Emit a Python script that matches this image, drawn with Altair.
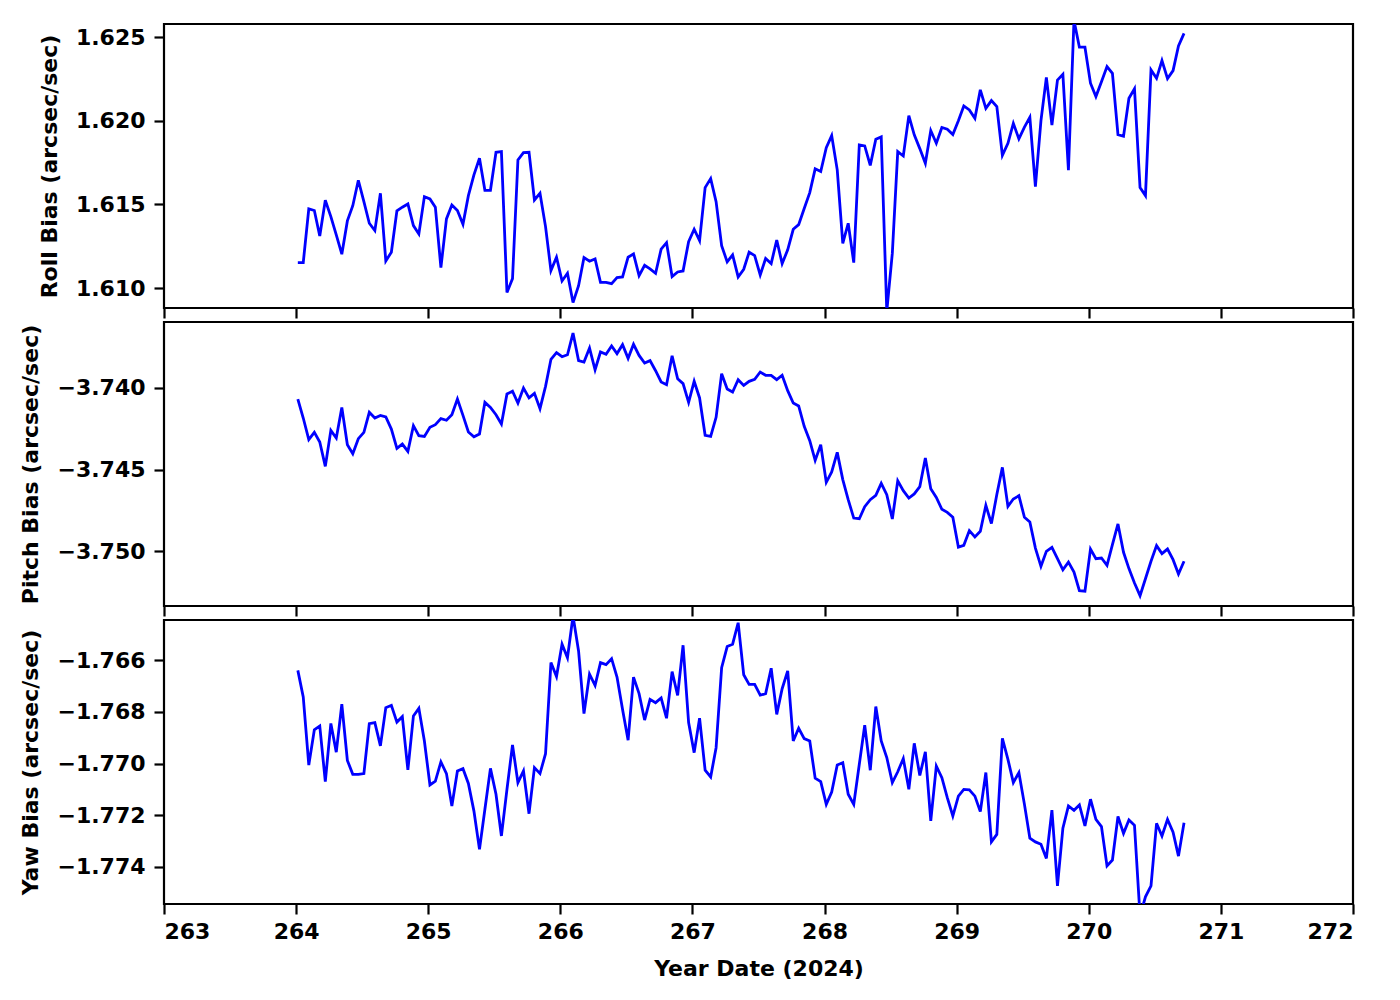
import altair as alt
import pandas as pd

# Hourly samples, day of year 2024
days = [
    264.013, 264.054, 264.096, 264.138, 264.179, 264.221, 264.263, 264.304, 264.346, 264.388, 264.429, 264.471,
    264.513, 264.554, 264.596, 264.638, 264.679, 264.721, 264.763, 264.804, 264.846, 264.888, 264.929, 264.971,
    265.013, 265.054, 265.096, 265.138, 265.179, 265.221, 265.263, 265.304, 265.346, 265.388, 265.429, 265.471,
    265.513, 265.554, 265.596, 265.638, 265.679, 265.721, 265.763, 265.804, 265.846, 265.888, 265.929, 265.971,
    266.013, 266.054, 266.096, 266.138, 266.179, 266.221, 266.263, 266.304, 266.346, 266.388, 266.429, 266.471,
    266.513, 266.554, 266.596, 266.638, 266.679, 266.721, 266.763, 266.804, 266.846, 266.888, 266.929, 266.971,
    267.013, 267.054, 267.096, 267.138, 267.179, 267.221, 267.263, 267.304, 267.346, 267.388, 267.429, 267.471,
    267.513, 267.554, 267.596, 267.638, 267.679, 267.721, 267.763, 267.804, 267.846, 267.888, 267.929, 267.971,
    268.013, 268.054, 268.096, 268.138, 268.179, 268.221, 268.263, 268.304, 268.346, 268.388, 268.429, 268.471,
    268.513, 268.554, 268.596, 268.638, 268.679, 268.721, 268.763, 268.804, 268.846, 268.888, 268.929, 268.971,
    269.013, 269.054, 269.096, 269.138, 269.179, 269.221, 269.263, 269.304, 269.346, 269.388, 269.429, 269.471,
    269.513, 269.554, 269.596, 269.638, 269.679, 269.721, 269.763, 269.804, 269.846, 269.888, 269.929, 269.971,
    270.013, 270.054, 270.096, 270.138, 270.179, 270.221, 270.263, 270.304, 270.346, 270.388, 270.429, 270.471,
    270.513, 270.554, 270.596, 270.638, 270.679, 270.721,
]

roll = [
    1.61152, 1.61152, 1.61473, 1.61463, 1.61311, 1.61524, 1.61427, 1.61317, 1.61202, 1.61401,
    1.61492, 1.61644, 1.61516, 1.61387, 1.61343, 1.61566, 1.61162, 1.61214, 1.61461, 1.61483,
    1.61502, 1.61373, 1.61323, 1.61546, 1.61532, 1.61483, 1.61122, 1.61413, 1.61496, 1.61463,
    1.61381, 1.61552, 1.61676, 1.61775, 1.61584, 1.61584, 1.61811, 1.61815, 1.60973, 1.61056,
    1.61765, 1.61809, 1.61811, 1.61526, 1.61566, 1.61367, 1.61104, 1.61184, 1.61042, 1.61088,
    1.60913, 1.61014, 1.61182, 1.61160, 1.61174, 1.61034, 1.61034, 1.61026, 1.61062, 1.61066,
    1.61184, 1.61204, 1.61074, 1.61136, 1.61114, 1.61088, 1.61232, 1.61271, 1.61068, 1.61096,
    1.61102, 1.61277, 1.61351, 1.61283, 1.61600, 1.61654, 1.61516, 1.61253, 1.61156, 1.61198,
    1.61066, 1.61112, 1.61214, 1.61194, 1.61078, 1.61176, 1.61146, 1.61287, 1.61146, 1.61228,
    1.61351, 1.61379, 1.61475, 1.61570, 1.61712, 1.61696, 1.61839, 1.61911, 1.61706, 1.61267,
    1.61387, 1.61152, 1.61855, 1.61849, 1.61733, 1.61889, 1.61903, 1.60860, 1.61208, 1.61815,
    1.61789, 1.62030, 1.61915, 1.61833, 1.61745, 1.61941, 1.61865, 1.61959, 1.61949, 1.61917,
    1.62000, 1.62088, 1.62064, 1.62014, 1.62184, 1.62074, 1.62120, 1.62084, 1.61793, 1.61865,
    1.61984, 1.61891, 1.61961, 1.62020, 1.61606, 1.62000, 1.62259, 1.61973, 1.62243, 1.62277,
    1.61704, 1.62600, 1.62439, 1.62439, 1.62224, 1.62144, 1.62233, 1.62323, 1.62283, 1.61917,
    1.61907, 1.62134, 1.62191, 1.61600, 1.61552, 1.62303, 1.62253, 1.62359, 1.62251, 1.62299,
    1.62447, 1.62522,
]

pitch = [
    -3.74068, -3.74184, -3.74317, -3.74272, -3.74331, -3.74481, -3.74260, -3.74307, -3.74119, -3.74348,
    -3.74403, -3.74311, -3.74272, -3.74149, -3.74184, -3.74168, -3.74178, -3.74252, -3.74370, -3.74344,
    -3.74389, -3.74231, -3.74292, -3.74297, -3.74241, -3.74225, -3.74188, -3.74198, -3.74164, -3.74068,
    -3.74168, -3.74270, -3.74299, -3.74282, -3.74088, -3.74119, -3.74164, -3.74221, -3.74037, -3.74020,
    -3.74092, -3.74000, -3.74061, -3.74033, -3.74127, -3.73990, -3.73824, -3.73783, -3.73808, -3.73796,
    -3.73663, -3.73832, -3.73841, -3.73755, -3.73888, -3.73779, -3.73793, -3.73742, -3.73789, -3.73734,
    -3.73818, -3.73732, -3.73800, -3.73847, -3.73832, -3.73894, -3.73963, -3.73980, -3.73802, -3.73943,
    -3.73973, -3.74088, -3.73959, -3.74061, -3.74290, -3.74297, -3.74180, -3.73912, -3.74006, -3.74025,
    -3.73949, -3.73984, -3.73959, -3.73947, -3.73902, -3.73922, -3.73922, -3.73949, -3.73922, -3.74016,
    -3.74092, -3.74110, -3.74235, -3.74323, -3.74444, -3.74348, -3.74579, -3.74515, -3.74395, -3.74562,
    -3.74685, -3.74798, -3.74802, -3.74728, -3.74685, -3.74658, -3.74585, -3.74654, -3.74804, -3.74569,
    -3.74630, -3.74675, -3.74650, -3.74605, -3.74430, -3.74618, -3.74671, -3.74744, -3.74763, -3.74793,
    -3.74976, -3.74965, -3.74875, -3.74914, -3.74879, -3.74720, -3.74832, -3.74654, -3.74487, -3.74726,
    -3.74681, -3.74661, -3.74793, -3.74822, -3.74982, -3.75094, -3.75002, -3.74978, -3.75047, -3.75115,
    -3.75068, -3.75129, -3.75243, -3.75247, -3.74988, -3.75047, -3.75043, -3.75088, -3.74961, -3.74834,
    -3.75008, -3.75108, -3.75196, -3.75274, -3.75170, -3.75063, -3.74967, -3.75016, -3.74988, -3.75053,
    -3.75141, -3.75063,
]

yaw = [
    -1.76640, -1.76743, -1.77006, -1.76870, -1.76855, -1.77070, -1.76845, -1.76956, -1.76771, -1.76988,
    -1.77042, -1.77042, -1.77039, -1.76846, -1.76842, -1.76932, -1.76784, -1.76775, -1.76840, -1.76819,
    -1.77025, -1.76816, -1.76787, -1.76913, -1.77083, -1.77068, -1.76994, -1.77039, -1.77164, -1.77029,
    -1.77020, -1.77077, -1.77184, -1.77332, -1.77177, -1.77019, -1.77119, -1.77280, -1.77100, -1.76928,
    -1.77074, -1.77029, -1.77194, -1.77016, -1.77039, -1.76962, -1.76610, -1.76664, -1.76539, -1.76591,
    -1.76430, -1.76565, -1.76807, -1.76655, -1.76698, -1.76610, -1.76618, -1.76595, -1.76666, -1.76791,
    -1.76910, -1.76666, -1.76730, -1.76832, -1.76752, -1.76765, -1.76747, -1.76825, -1.76645, -1.76737,
    -1.76543, -1.76842, -1.76958, -1.76825, -1.77026, -1.77052, -1.76939, -1.76630, -1.76548, -1.76539,
    -1.76456, -1.76657, -1.76694, -1.76694, -1.76736, -1.76730, -1.76632, -1.76810, -1.76711, -1.76642,
    -1.76913, -1.76864, -1.76904, -1.76913, -1.77057, -1.77070, -1.77158, -1.77110, -1.77006, -1.76997,
    -1.77119, -1.77158, -1.77003, -1.76852, -1.77026, -1.76780, -1.76913, -1.76977, -1.77074, -1.77032,
    -1.76981, -1.77100, -1.76922, -1.77046, -1.76955, -1.77222, -1.77010, -1.77055, -1.77132, -1.77203,
    -1.77126, -1.77100, -1.77102, -1.77126, -1.77186, -1.77035, -1.77303, -1.77274, -1.76903, -1.76984,
    -1.77074, -1.77035, -1.77158, -1.77289, -1.77303, -1.77312, -1.77367, -1.77180, -1.77473, -1.77250,
    -1.77164, -1.77181, -1.77160, -1.77241, -1.77138, -1.77216, -1.77244, -1.77396, -1.77373, -1.77205,
    -1.77270, -1.77218, -1.77239, -1.77590, -1.77515, -1.77473, -1.77231, -1.77280, -1.77216, -1.77265,
    -1.77358, -1.77229,
]

x_ticks = [263, 264, 265, 266, 267, 268, 269, 270, 271, 272]
roll_ticks = [1.610, 1.615, 1.620, 1.625]
pitch_ticks = [-3.750, -3.745, -3.740]
yaw_ticks = [-1.774, -1.772, -1.770, -1.768, -1.766]

roll_domain = [1.608805, 1.625777]
pitch_domain = [-3.753374, -3.735951]
yaw_domain = [-1.775430, -1.764454]

df = pd.DataFrame({"day": days, "roll": roll, "pitch": pitch, "yaw": yaw})

FONT = "DejaVu Sans"
FS = 22
W, H = 1189, 284


def panel(field, title, domain, ticks, bottom):
    xaxis = alt.Axis(
        values=x_ticks,
        labels=bottom,
        title="Year Date (2024)" if bottom else "",
        format="d",
        grid=False,
        domain=False,
        tickSize=10,
        tickWidth=2.2,
        tickColor="black",
        labelPadding=7,
        titlePadding=16,
    )
    yaxis = alt.Axis(
        values=ticks,
        format=".3f",
        title=title,
        grid=False,
        domain=False,
        tickSize=10,
        tickWidth=2.2,
        tickColor="black",
        labelPadding=9,
        titlePadding=14,
    )
    return (
        alt.Chart(df)
        .mark_line(color="#0000ff", strokeWidth=2.8, clip=True)
        .encode(
            x=alt.X("day:Q", scale=alt.Scale(domain=[263, 272], nice=False, zero=False), axis=xaxis),
            y=alt.Y(f"{field}:Q", scale=alt.Scale(domain=domain, nice=False, zero=False), axis=yaxis),
        )
        .properties(width=W, height=H)
    )


chart = (
    alt.vconcat(
        panel("roll", "Roll Bias (arcsec/sec)", roll_domain, roll_ticks, False),
        panel("pitch", "Pitch Bias (arcsec/sec)", pitch_domain, pitch_ticks, False),
        panel("yaw", "Yaw Bias (arcsec/sec)", yaw_domain, yaw_ticks, True),
        spacing=14,
        bounds="flush",
    )
    .properties(padding={"left": 10, "top": 14, "right": 10, "bottom": 10})
    .configure(background="white")
    .configure_view(stroke="black", strokeWidth=2.2)
    .configure_axis(
        labelFont=FONT,
        labelFontSize=FS,
        labelFontWeight="bold",
        labelColor="black",
        titleFont=FONT,
        titleFontSize=FS,
        titleFontWeight="bold",
        titleColor="black",
    )
)

chart.save("out.html", embed_options={"renderer": "svg", "actions": False})
